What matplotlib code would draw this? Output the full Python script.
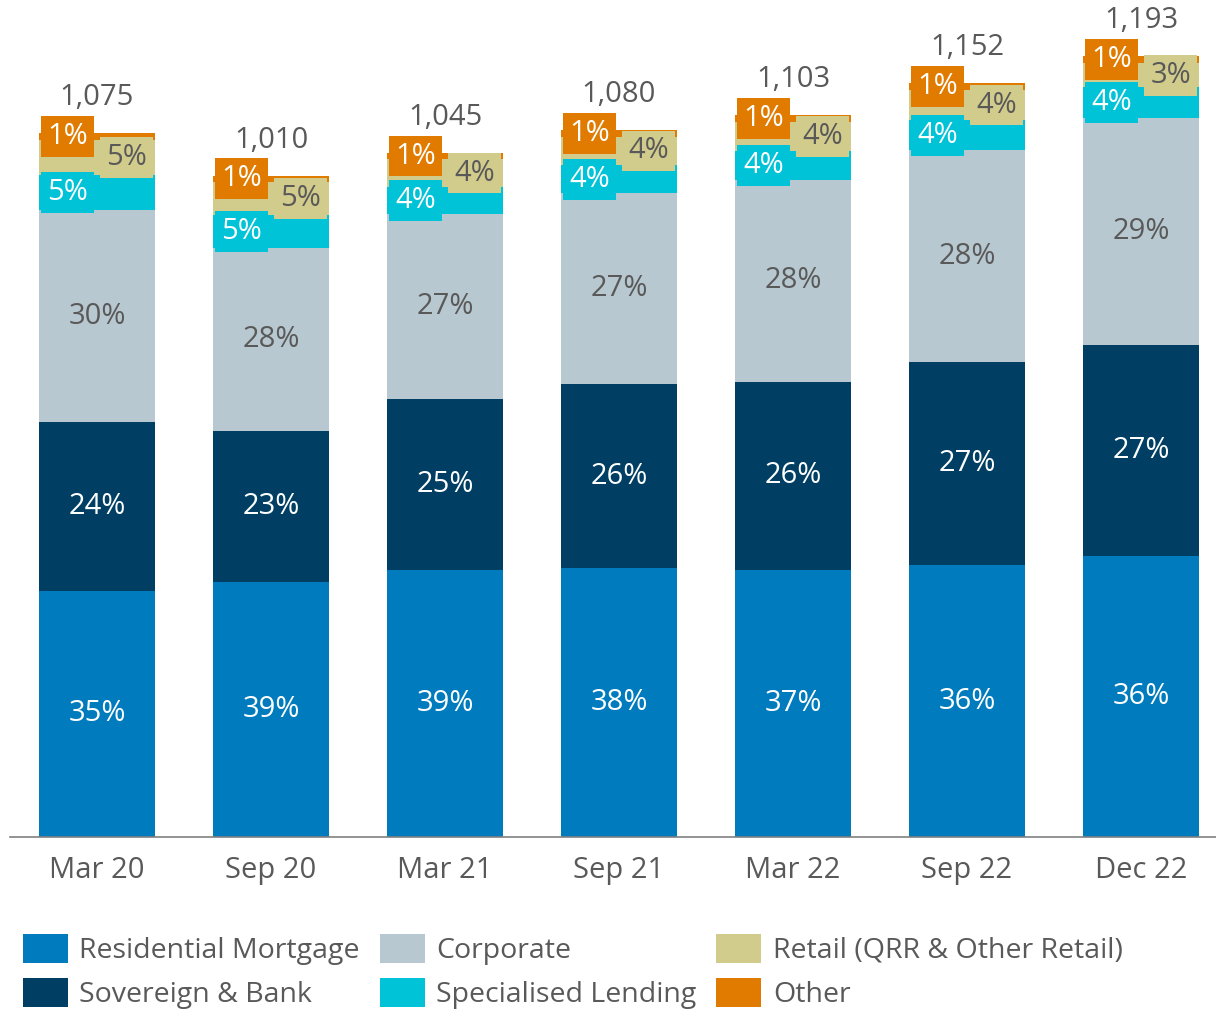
import numpy as np
import matplotlib.pyplot as plt
from matplotlib.patches import Patch

plt.rcParams['font.family'] = ['Open Sans', 'DejaVu Sans']

periods = ['Mar 20', 'Sep 20', 'Mar 21', 'Sep 21', 'Mar 22', 'Sep 22', 'Dec 22']
totals = [1075, 1010, 1045, 1080, 1103, 1152, 1193]

# share of total, %
residential = [35, 39, 39, 38, 37, 36, 36]
sovereign = [24, 23, 25, 26, 26, 27, 27]
corporate = [30, 28, 27, 27, 28, 28, 29]
specialised = [5, 5, 4, 4, 4, 4, 4]
retail = [5, 5, 4, 4, 4, 4, 3]
other = [1, 1, 1, 1, 1, 1, 1]

names = ['Residential Mortgage', 'Sovereign & Bank', 'Corporate',
         'Specialised Lending', 'Retail (QRR & Other Retail)', 'Other']
colors = ['#007bbd', '#003f63', '#b8c8d0', '#00c3d7', '#d2cc8c', '#e07b00']
series = [residential, sovereign, corporate, specialised, retail, other]

gray = '#595959'
fs = 21

fig = plt.figure(figsize=(12.16, 10.13), dpi=100)
ax = fig.add_axes([10 / 1216, 176 / 1013, 1206 / 1216, 837 / 1013])

x = np.arange(len(periods))
w = 0.667
tot = np.array(totals, dtype=float)
pct_sum = np.sum(np.array(series), axis=0)
bottom = np.zeros(len(periods))

for k, (vals, col) in enumerate(zip(series, colors)):
    h = tot * np.array(vals) / pct_sum
    ax.bar(x, h, w, bottom=bottom, color=col, edgecolor='none')
    for i in range(len(x)):
        y = bottom[i] + h[i] / 2
        lab = f'{vals[i]}%'
        if k in (0, 1):
            ax.text(x[i], y, lab, ha='center', va='center', color='white', fontsize=fs)
        elif k == 2:
            ax.text(x[i], y, lab, ha='center', va='center', color=gray, fontsize=fs)
        elif k == 3:
            ax.text(x[i] - 0.17, y, lab, ha='center', va='center', color='white', fontsize=fs,
                    bbox=dict(boxstyle='square,pad=0.2', fc=col, ec='none'))
        elif k == 4:
            ax.text(x[i] + 0.17, y, lab, ha='center', va='center', color=gray, fontsize=fs,
                    bbox=dict(boxstyle='square,pad=0.2', fc=col, ec='none'))
        else:
            ax.text(x[i] - 0.17, y, lab, ha='center', va='center', color='white', fontsize=fs,
                    bbox=dict(boxstyle='square,pad=0.2', fc=col, ec='none'), zorder=5)
    bottom += h

for i in range(len(x)):
    ax.annotate(f'{totals[i]:,}', (x[i], tot[i]), xytext=(0, 15), textcoords='offset points',
                ha='center', va='bottom', color=gray, fontsize=fs)

ax.set_xlim(-0.5, 6 + 75 / 174)
ax.set_ylim(0, 1278)
ax.set_xticks(x)
ax.set_xticklabels(periods, fontsize=fs, color=gray)
ax.tick_params(axis='x', length=0, pad=14)
ax.set_yticks([])
for s in ['top', 'right', 'left']:
    ax.spines[s].set_visible(False)
ax.spines['bottom'].set_color('#808080')
ax.spines['bottom'].set_linewidth(1.2)

handles = [Patch(facecolor=c, edgecolor='none') for c in colors]
leg = fig.legend(handles, names, ncol=3, loc='lower left',
                 bbox_to_anchor=(23 / 1216, 4 / 1013), frameon=False, borderpad=0,
                 borderaxespad=0, fontsize=20.5, handlelength=1.58, handleheight=1.2,
                 handletextpad=0.4, columnspacing=0.7, labelspacing=0.45)
for t in leg.get_texts():
    t.set_color(gray)

fig.savefig('out.png', dpi=100)
